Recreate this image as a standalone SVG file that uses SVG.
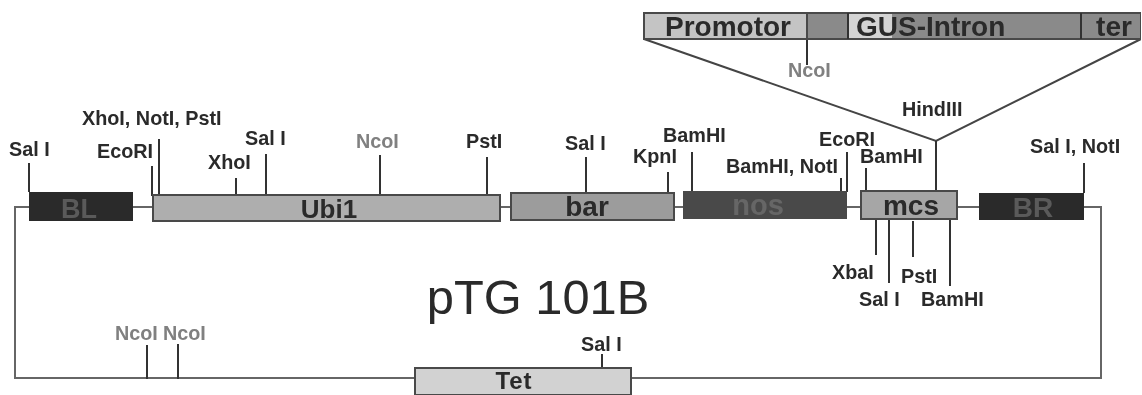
<svg xmlns="http://www.w3.org/2000/svg" width="1142" height="395" viewBox="0 0 1142 395">
<style>
text{font-family:"Liberation Sans",Arial,sans-serif;font-weight:bold;fill:#2a2a2a}
.l{font-size:19.8px}
.g{fill:#808080}
.t{font-size:28px;text-anchor:middle}
.w{fill:none;stroke:#444;stroke-width:2}
.s{fill:none;stroke:#333;stroke-width:2}
.b{stroke:#4a4a4a;stroke-width:2}
</style>
<defs><filter id="soft" x="0" y="0" width="100%" height="100%"><feGaussianBlur stdDeviation="0.45"/></filter></defs>
<rect width="1142" height="395" fill="#fff"/>
<g filter="url(#soft)">
<g id="connectors">
<path class="w" d="M29 207H15V378H415M631 378H1101V207H1084M132 207H153M500 207H511M673 207H683M846 207H861M956 207H979" style="stroke:#666"/>
<path class="w" d="M644 39L936 141L1141 39"/>
<path class="s" d="M807 12V65M936 141V191"/>
<path class="s" d="M29 163V192M152 166V196M159 139V195M236 178V195M266 154V194M380 155V194M487 157V195M586 157V193M668 172V192M692 152V192M841 178V192M847 152V192M866 168V191M1084 163V193M602 354V369M147 345V379M178 344V379M876 219V255M889 219V283M913 221V257M950 219V286"/>
</g>
<g id="promotor"><rect class="b" x="644" y="13" width="163" height="26" fill="#c4c4c4"/><text x="728" y="36" class="t">Promotor</text></g>
<g id="gus-intron">
<rect class="b" x="807" y="13" width="334" height="26" fill="#8a8a8a"/>
<rect x="849" y="14" width="43" height="24" fill="#d4d4d4"/>
<path d="M848 13V39M1081 13V39" stroke="#333" stroke-width="2"/>
<text x="856" y="36" style="font-size:28px">GUS-Intron</text>
<text x="1114" y="36" class="t">ter</text>
</g>
<g id="bl"><rect x="29" y="192" width="104" height="29" fill="#2b2b2b"/><text x="79" y="218" class="t" style="fill:#5a5a5a;font-size:27px">BL</text></g>
<g id="ubi1"><rect class="b" x="153" y="195" width="347" height="26" fill="#aeaeae"/><text x="329" y="218" class="t" style="font-size:26px">Ubi1</text></g>
<g id="bar"><rect class="b" x="511" y="193" width="163" height="27" fill="#9c9c9c"/><text x="587" y="216" class="t">bar</text></g>
<g id="nos"><rect x="683" y="191" width="164" height="28" fill="#4a4a4a"/><text x="758" y="215" class="t" style="fill:#666;font-size:29px">nos</text></g>
<g id="mcs"><rect class="b" x="861" y="191" width="96" height="28" fill="#a6a6a6"/><text x="911" y="215" class="t">mcs</text></g>
<g id="br"><rect x="979" y="193" width="105" height="27" fill="#2b2b2b"/><text x="1033" y="217" class="t" style="fill:#5a5a5a">BR</text></g>
<g id="tet"><rect class="b" x="415" y="368" width="216" height="27" fill="#d2d2d2"/><text x="514" y="389" class="t" style="font-size:24px;letter-spacing:1px">Tet</text></g>
<g id="labels">
<text class="l" x="9" y="156">Sal I</text>
<text class="l" x="82" y="125">XhoI, NotI, PstI</text>
<text class="l" x="97" y="158">EcoRI</text>
<text class="l" x="208" y="169">XhoI</text>
<text class="l" x="245" y="145">Sal I</text>
<text class="l g" x="356" y="148">NcoI</text>
<text class="l" x="466" y="148">PstI</text>
<text class="l" x="565" y="150">Sal I</text>
<text class="l" x="633" y="163">KpnI</text>
<text class="l" x="663" y="142">BamHI</text>
<text class="l" x="726" y="173">BamHI, NotI</text>
<text class="l" x="819" y="146">EcoRI</text>
<text class="l" x="860" y="163">BamHI</text>
<text class="l" x="902" y="116">HindIII</text>
<text class="l" x="1030" y="153">Sal I, NotI</text>
<text class="l g" x="788" y="77">NcoI</text>
<text class="l" x="832" y="279">XbaI</text>
<text class="l" x="859" y="306">Sal I</text>
<text class="l" x="901" y="283">PstI</text>
<text class="l" x="921" y="306">BamHI</text>
<text class="l g" x="115" y="340">NcoI</text>
<text class="l g" x="163" y="340">NcoI</text>
<text class="l" x="581" y="351">Sal I</text>
<text x="538" y="314" text-anchor="middle" style="font-size:48.8px;font-weight:normal">pTG 101B</text>
</g>
</g>
</svg>
